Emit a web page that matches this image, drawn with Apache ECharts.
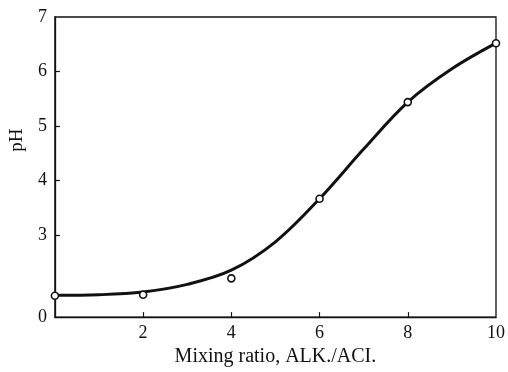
<!DOCTYPE html>
<html>
<head>
<meta charset="utf-8">
<script src="https://cdn.jsdelivr.net/npm/echarts@6/dist/echarts.min.js"></script>
<style>html,body{margin:0;padding:0;background:#fff;}#c{width:508px;height:372px;}</style>
</head>
<body>
<div id="c"></div>
<script>
// Smooth fitted curve (x = mixing ratio, y = pH)
const curveX = [0, 1, 2, 3, 4, 5, 6, 7, 8, 9, 10];
const curveY = [1.90, 1.91, 1.96, 2.10, 2.36, 2.88, 3.67, 4.58, 5.44, 6.05, 6.52];
// Measured points
const pointX = [0, 2, 4, 6, 8, 10];
const pointY = [1.89, 1.91, 2.21, 3.67, 5.44, 6.52];
// Axis ticks
const xTicks = [2, 4, 6, 8, 10];
const yTicks = [3, 4, 5, 6, 7];
const yBreakValue = 1.5; // bottom of broken axis, labelled "0"
const yBreakLabel = '0';

const chart = echarts.init(document.getElementById('c'), null, {renderer: 'canvas'});
const font = 'Liberation Serif';
const ink = '#111';
chart.setOption({
  animation: false,
  backgroundColor: '#fff',
  grid: {left: 51, top: 17, right: 11, bottom: 48, show: true, borderColor: ink, borderWidth: 1.3, backgroundColor: 'transparent'},
  xAxis: {
    type: 'value', min: 0, max: 10, interval: 2,
    name: 'Mixing ratio, ALK./ACI.', nameLocation: 'middle', nameGap: 26,
    nameTextStyle: {fontFamily: font, fontSize: 20, color: ink},
    axisLine: {show: true, lineStyle: {color: ink, width: 1.3}},
    axisTick: {show: true, inside: true, length: 5, lineStyle: {color: ink, width: 1.2}, customValues: xTicks.slice(0, 4)},
    axisLabel: {fontFamily: font, fontSize: 18, color: ink, margin: 7, customValues: xTicks, formatter: v => String(v)},
    splitLine: {show: false}
  },
  yAxis: {
    type: 'value', min: yBreakValue, max: 7,
    name: 'pH', nameLocation: 'middle', nameGap: 23, nameRotate: 90,
    nameTextStyle: {fontFamily: font, fontSize: 19, color: ink, padding: [0, 0, 0, 54]},
    axisLine: {show: true, lineStyle: {color: ink, width: 1.3}},
    axisTick: {show: true, inside: true, length: 5, lineStyle: {color: ink, width: 1.2}, customValues: yTicks.slice(0, 4)},
    axisLabel: {fontFamily: font, fontSize: 18, color: ink, margin: 8,
      customValues: [yBreakValue].concat(yTicks),
      formatter: v => (Math.abs(v - yBreakValue) < 1e-6 ? yBreakLabel : String(Math.round(v)))},
    splitLine: {show: false}
  },
  series: [
    {
      type: 'line', smooth: 0.35, showSymbol: false,
      data: curveX.map((x, i) => [x, curveY[i]]),
      lineStyle: {color: ink, width: 3}, z: 2
    },
    {
      type: 'scatter', symbol: 'circle', symbolSize: 7,
      data: pointX.map((x, i) => [x, pointY[i]]),
      itemStyle: {color: '#fff', borderColor: ink, borderWidth: 1.6, opacity: 1}, z: 3
    }
  ]
});
</script>
</body>
</html>
